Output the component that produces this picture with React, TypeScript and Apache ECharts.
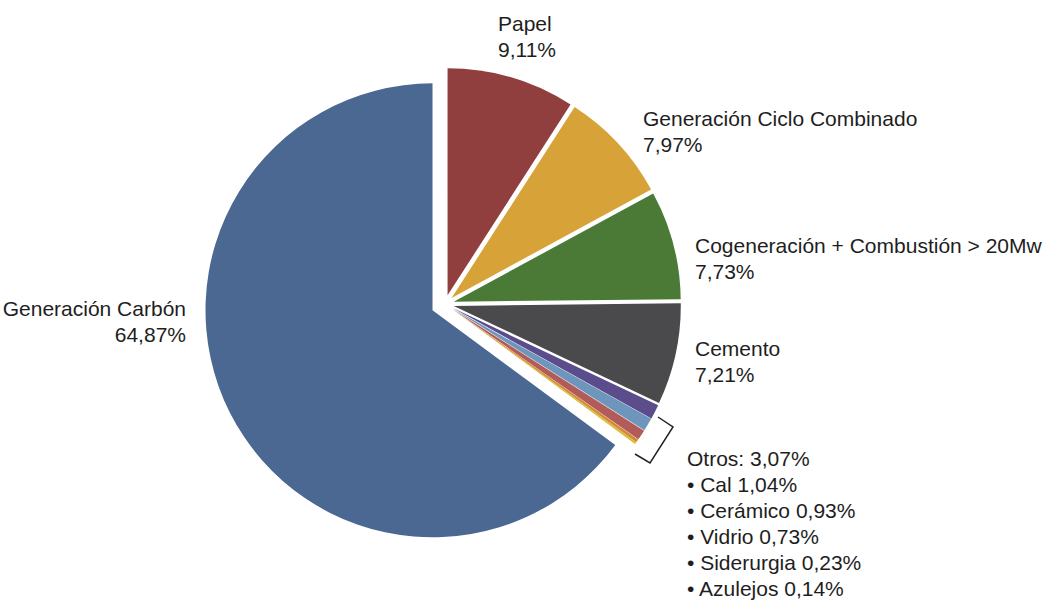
import React, { useEffect, useRef } from "react";
import * as echarts from "echarts";

const categories = [
  "Papel",
  "Generación Ciclo Combinado",
  "Cogeneración + Combustión > 20Mw",
  "Cemento",
  "Cal",
  "Cerámico",
  "Vidrio",
  "Siderurgia",
  "Azulejos",
  "Generación Carbón",
];
const values = [9.11, 7.97, 7.73, 7.21, 1.04, 0.93, 0.73, 0.23, 0.14, 64.87];
const colors = [
  "#913e3e",
  "#d7a338",
  "#4b7a36",
  "#4a4a4d",
  "#5b4d8c",
  "#6e96bc",
  "#b25c5a",
  "#d48a3a",
  "#d9bb34",
  "#4a6892",
];
const otherIdx = [4, 5, 6, 7, 8];
const carbonIdx = 9;

// label anchor positions (page pixels) and alignment per data index
const labelPos: Record<number, { x: number; y: number; align: string }> = {
  0: { x: 498, y: 10, align: "left" },
  1: { x: 643, y: 105, align: "left" },
  2: { x: 695, y: 232, align: "left" },
  3: { x: 695, y: 335, align: "left" },
  4: { x: 687, y: 445, align: "left" },
  9: { x: 186, y: 295, align: "right" },
};

const fmt = (v: number) => v.toFixed(2).replace(".", ",");

export default function App() {
  const ref = useRef<HTMLDivElement>(null);
  useEffect(() => {
    if (!ref.current) return;
    const chart = echarts.init(ref.current, null, { renderer: "svg" });
    const othersTotal = otherIdx.reduce((s, i) => s + values[i], 0);
    const labelText = (i: number) => {
      if (i === 4) {
        return [
          `Otros: ${fmt(othersTotal)}%`,
          ...otherIdx.map((k) => `• ${categories[k]} ${fmt(values[k])}%`),
        ].join("\n");
      }
      return `${categories[i]}\n${fmt(values[i])}%`;
    };
    const buildData = (visible: (i: number) => boolean) =>
      categories.map((name, i) => {
        const vis = visible(i);
        return {
          name,
          value: values[i],
          selected: vis,
          itemStyle: { color: colors[i], opacity: vis ? 1 : 0 },
        };
      });
    const common = {
      type: "pie",
      center: [445, 304],
      radius: 227,
      startAngle: 90,
      clockwise: true,
      silent: true,
      avoidLabelOverlap: false,
      emphasis: { disabled: true },
      labelLine: { show: false },
      label: { show: false },
      itemStyle: { borderWidth: 0 },
    };
    chart.setOption({
      animation: false,
      series: [
        {
          ...common,
          name: "rest",
          selectedMode: "multiple",
          selectedOffset: 9,
          data: buildData((i) => i !== carbonIdx),
        },
        {
          ...common,
          name: "carbon",
          selectedMode: "single",
          selectedOffset: 14,
          data: buildData((i) => i === carbonIdx),
        },
        {
          type: "pie",
          name: "labels",
          center: [445, 304],
          radius: 227,
          startAngle: 90,
          clockwise: true,
          selectedMode: false,
          silent: true,
          avoidLabelOverlap: false,
          labelLine: { show: false },
          itemStyle: { color: "rgba(0,0,0,0)", borderWidth: 0 },
          label: {
            position: "outside",
            color: "#1e1e1e",
            opacity: 1,
            fontFamily: "Liberation Sans",
            fontSize: 21,
            lineHeight: 26,
          },
          labelLayout: (p: any) => {
            const lp = labelPos[p.dataIndex];
            if (!lp) return {};
            return { x: lp.x, y: lp.y, align: lp.align, verticalAlign: "top" };
          },
          data: categories.map((name, i) => ({
            name,
            value: values[i],
            label: {
              show: labelPos[i] !== undefined,
              formatter: () => labelText(i),
            },
          })),
        },
      ],
      graphic: [
        {
          type: "polyline",
          silent: true,
          shape: {
            points: [
              [658, 417],
              [673, 427],
              [650, 463],
              [635, 454],
            ],
          },
          style: { stroke: "#222", lineWidth: 1.5, fill: "none" },
        },
      ],
    });
    return () => chart.dispose();
  }, []);
  return (
    <div
      ref={ref}
      style={{ position: "fixed", left: 0, top: 0, width: 1048, height: 602, background: "#fff" }}
    />
  );
}
